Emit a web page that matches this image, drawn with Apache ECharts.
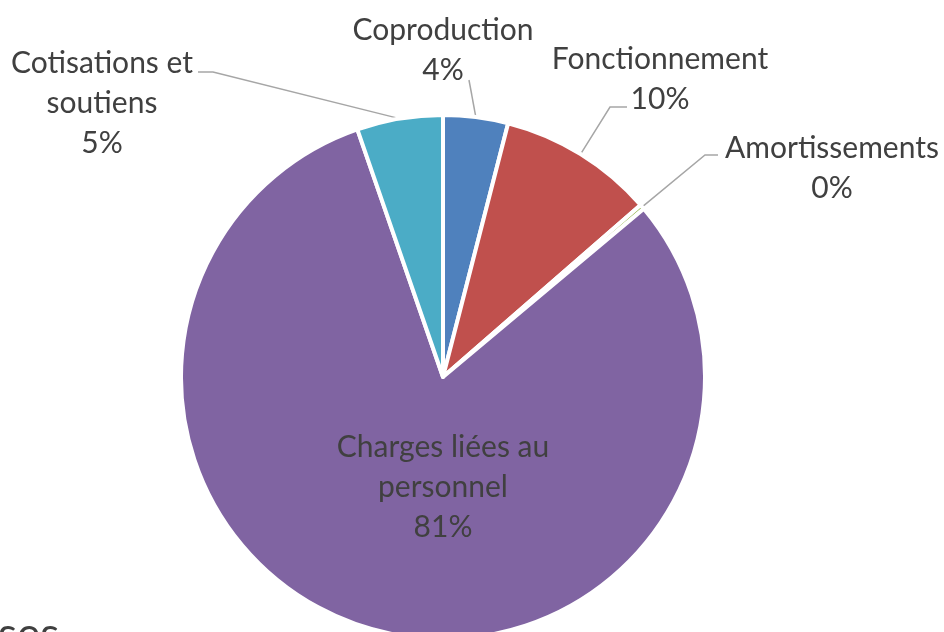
<!DOCTYPE html>
<html>
<head>
<meta charset="utf-8">
<script src="https://cdn.jsdelivr.net/npm/echarts@6/dist/echarts.min.js"></script>
<style>
  body { margin: 0; padding: 0; background: #fff; }
  #chart { width: 944px; height: 632px; }
</style>
</head>
<body>
<div id="chart"></div>
<script>
// parts of the budget, clockwise from the top
const categories = [
  "Coproduction",
  "Fonctionnement",
  "Amortissements",
  "Charges liées au\npersonnel",
  "Cotisations et\nsoutiens"
];
const values = [4.0, 9.6, 0.3, 80.8, 5.3];
const colors = ["#4F81BD", "#C0504D", "#9BBB59", "#8064A2", "#4BACC6"];

// where each label sits (centre of the text block) and the leader line bend
const labelSpots = [
  { x: 443, y: 50, bend: [469, 80], end: [469, 80] },
  { x: 660, y: 79, bend: [610, 107], end: [627, 107] },
  { x: 832, y: 168, bend: [705, 155], end: [718, 155] },
  { x: 443, y: 487 },
  { x: 102, y: 103, bend: [213, 72], end: [198, 72] }
];

const data = categories.map((name, i) => {
  const item = { name: name, value: values[i], itemStyle: { color: colors[i] } };
  if (i === 3) {
    item.label = { position: "inside" };
    item.labelLine = { show: false };
  }
  return item;
});

const chart = echarts.init(document.getElementById("chart"));
chart.setOption({
  animation: false,
  series: [
    {
      type: "pie",
      center: [443, 377],
      radius: 262,
      startAngle: 90,
      clockwise: true,
      percentPrecision: 0,
      avoidLabelOverlap: false,
      itemStyle: { borderColor: "#fff", borderWidth: 4 },
      label: {
        show: true,
        position: "outside",
        formatter: "{b}\n{d}%",
        color: "#404040",
        fontFamily: "Lato",
        fontSize: 30,
        lineHeight: 40,
        align: "center"
      },
      labelLine: {
        show: true,
        length: 10,
        length2: 10,
        lineStyle: { color: "#A6A6A6", width: 1.5 }
      },
      labelLayout: function (params) {
        const s = labelSpots[params.dataIndex];
        const out = { x: s.x, y: s.y, align: "center", verticalAlign: "middle" };
        const pts = params.labelLinePoints;
        if (pts && s.bend) {
          pts[1] = s.bend.slice();
          pts[2] = s.end.slice();
          out.labelLinePoints = pts;
        }
        return out;
      },
      data: data
    }
  ],
  graphic: [
    {
      // bit of the page text below the chart, cut by the crop
      type: "text",
      left: -2,
      top: 613,
      style: { text: "ses", fontFamily: "Lato", fontSize: 44, fill: "#404040" }
    }
  ]
});
</script>
</body>
</html>
